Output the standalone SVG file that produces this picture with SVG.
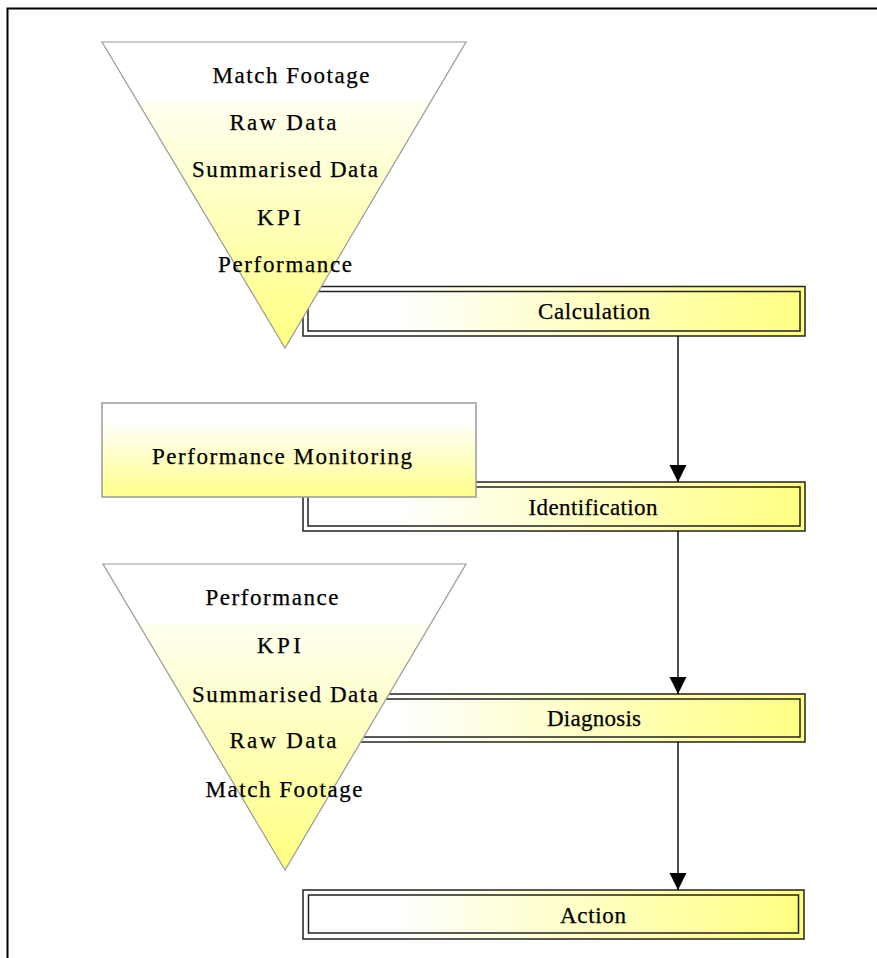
<svg xmlns="http://www.w3.org/2000/svg" width="877" height="958" viewBox="0 0 877 958">
  <defs>
    <!-- vertical fade used by the funnels and the monitoring box -->
    <linearGradient id="fadeDown" x1="0" y1="0" x2="0" y2="1">
      <stop offset="0" stop-color="#ffffff"/>
      <stop offset="0.19" stop-color="#ffffff"/>
      <stop offset="0.2" stop-color="#fffff0"/>
      <stop offset="1" stop-color="#ffff80"/>
    </linearGradient>
    <linearGradient id="fadeBox" x1="0" y1="0" x2="0" y2="1">
      <stop offset="0" stop-color="#ffffff"/>
      <stop offset="0.18" stop-color="#ffffff"/>
      <stop offset="1" stop-color="#ffff88"/>
    </linearGradient>
    <!-- horizontal fade for the stage bars -->
    <linearGradient id="fadeRight" x1="0" y1="0" x2="1" y2="0">
      <stop offset="0" stop-color="#ffffff"/>
      <stop offset="0.18" stop-color="#ffffff"/>
      <stop offset="1" stop-color="#ffff80"/>
    </linearGradient>
    <marker id="arrow" markerWidth="17" markerHeight="18" refX="17" refY="8.5" orient="auto" markerUnits="userSpaceOnUse">
      <path d="M0,0 L17,8.5 L0,17 Z" fill="#000"/>
    </marker>
  </defs>
  <style>
    .lbl { font-family: "Liberation Serif", "Times New Roman", serif; font-size: 23px; fill: #000; stroke: #000; stroke-width: 0.25; text-anchor: middle; }
    .funnel { stroke: #9a9a9a; stroke-width: 1.2; fill: url(#fadeDown); }
    .panel { stroke: #9a9a9a; stroke-width: 1.5; fill: url(#fadeBox); }
    .bar { fill: url(#fadeRight); stroke: #222; stroke-width: 1.5; }
    .barInner { fill: none; stroke: #222; stroke-width: 1.5; }
    .link { stroke: #111; stroke-width: 1.5; fill: none; marker-end: url(#arrow); }
  </style>

  <rect width="877" height="958" fill="#ffffff"/>
  <!-- page frame -->
  <path d="M7.5,958 V8.5 H877" fill="none" stroke="#000" stroke-width="2"/>

  <!-- stage bars -->
  <g id="calculation">
    <rect class="bar" x="303" y="286.5" width="502" height="49.5"/>
    <rect class="barInner" x="308" y="291.5" width="492" height="39.5"/>
    <text class="lbl" x="594" y="319" textLength="112" lengthAdjust="spacing">Calculation</text>
  </g>
  <g id="identification">
    <rect class="bar" x="303" y="482" width="502" height="49"/>
    <rect class="barInner" x="308" y="487" width="492" height="39"/>
    <text class="lbl" x="593" y="515" textLength="129" lengthAdjust="spacing">Identification</text>
  </g>
  <g id="diagnosis">
    <rect class="bar" x="303" y="694" width="502" height="48"/>
    <rect class="barInner" x="308" y="699" width="492" height="38"/>
    <text class="lbl" x="594" y="726" textLength="94" lengthAdjust="spacing">Diagnosis</text>
  </g>
  <g id="action">
    <rect class="bar" x="303" y="890" width="501" height="49"/>
    <rect class="barInner" x="308.5" y="895" width="490" height="38"/>
    <text class="lbl" x="593" y="923" textLength="66" lengthAdjust="spacing">Action</text>
  </g>

  <!-- connectors between stages -->
  <g id="connectors">
    <line class="link" x1="678" y1="336" x2="678" y2="482"/>
    <line class="link" x1="678" y1="531" x2="678" y2="694"/>
    <line class="link" x1="678" y1="742" x2="678" y2="890"/>
  </g>

  <!-- top funnel: footage down to performance -->
  <g id="funnel-up">
    <path class="funnel" d="M102,42 L466,42 L285,348 Z"/>
    <text class="lbl" x="291" y="83" textLength="157" lengthAdjust="spacing">Match Footage</text>
    <text class="lbl" x="283" y="130" textLength="107" lengthAdjust="spacing">Raw Data</text>
    <text class="lbl" x="285" y="177" textLength="186" lengthAdjust="spacing">Summarised Data</text>
    <text class="lbl" x="279" y="225" textLength="44" lengthAdjust="spacing">KPI</text>
    <text class="lbl" x="285" y="272" textLength="134" lengthAdjust="spacing">Performance</text>
  </g>

  <g id="monitoring">
    <rect class="panel" x="102" y="403" width="374" height="94"/>
    <text class="lbl" x="282" y="464" textLength="260" lengthAdjust="spacing">Performance Monitoring</text>
  </g>

  <!-- bottom funnel: performance back down to footage -->
  <g id="funnel-down">
    <path class="funnel" d="M103,564 L466,564 L285,870 Z"/>
    <text class="lbl" x="272" y="605" textLength="133" lengthAdjust="spacing">Performance</text>
    <text class="lbl" x="279" y="653" textLength="44" lengthAdjust="spacing">KPI</text>
    <text class="lbl" x="285" y="702" textLength="186" lengthAdjust="spacing">Summarised Data</text>
    <text class="lbl" x="283" y="748" textLength="107" lengthAdjust="spacing">Raw Data</text>
    <text class="lbl" x="284" y="797" textLength="157" lengthAdjust="spacing">Match Footage</text>
  </g>
</svg>
